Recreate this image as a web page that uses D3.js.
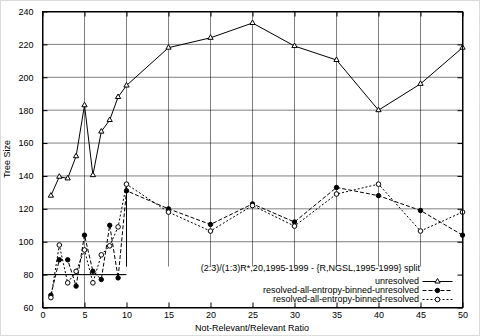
<!DOCTYPE html>
<html><head><meta charset="utf-8">
<script src="https://cdn.jsdelivr.net/npm/d3@7"></script>
<style>
body{margin:0;background:#fff}
svg{display:block}
text{font-family:"Liberation Sans",Arial,sans-serif;font-size:9px;fill:#000}
</style>
</head><body>
<svg id="chart" width="480" height="336"></svg>
<script>
const xValues = [1,2,3,4,5,6,7,8,9,10,15,20,25,30,35,40,45,50];
const unresolved = [128,139.5,138.5,152,183,140.5,167,174,188,195,218,224,233,219,210.5,180,196,218];
const resolvedUnresolved = [67.5,89,89,73,104,82,77,110,78,131,120,110.5,123,112,133,128,119,104];
const resolvedResolved = [66,98,75,82,95,75,92,97.5,109,135,118,106.5,122,109.5,129,135,106.5,118];
const xTicks = [0,5,10,15,20,25,30,35,40,45,50];
const yTicks = [60,80,100,120,140,160,180,200,220,240];
const seriesNames = ["unresolved","resolved-all-entropy-binned-unresolved","resolved-all-entropy-binned-resolved"];
const keyTitle = "(2:3)/(1:3)R*,20,1995-1999 - {R,NGSL,1995-1999} split";
const xTitle = "Not-Relevant/Relevant Ratio";
const yTitle = "Tree Size";

const svg = d3.select("#chart");
const L = 42, R = 462, T = 11, B = 307;
const x = d3.scaleLinear().domain([0,50]).range([L,R]);
const y = d3.scaleLinear().domain([60,240]).range([B,T]);

// image border
svg.append("rect").attr("x",0.5).attr("y",0.5).attr("width",479).attr("height",335)
  .attr("fill","#fff").attr("stroke","#b8b8b8").attr("stroke-dasharray","1,1");

const g = svg.append("g").attr("transform","translate(0.5,0.5)");

// grid (dotted)
const grid = g.append("g").attr("stroke","#000").attr("stroke-width",1).attr("stroke-dasharray","1,1");
grid.selectAll("line.gx").data(xTicks).join("line").attr("class","gx")
  .attr("x1",d=>x(d)).attr("x2",d=>x(d)).attr("y1",T).attr("y2",B);
grid.selectAll("line.gy").data(yTicks).join("line").attr("class","gy")
  .attr("x1",L).attr("x2",R).attr("y1",d=>y(d)).attr("y2",d=>y(d));

// key area (opaque)
g.append("rect").attr("x",124).attr("y",266).attr("width",R-124-1).attr("height",B-266-1)
  .attr("fill","#fff");

// solid reference segments visible near the low-ratio cluster
g.append("line").attr("x1",x(10)).attr("x2",x(10)).attr("y1",y(135)).attr("y2",266).attr("stroke","#000");
g.append("line").attr("x1",x(0)).attr("x2",x(10)).attr("y1",y(80)).attr("y2",y(80)).attr("stroke","#000");

// axes with inward ticks
function styleAxis(sel){ sel.select(".domain").attr("stroke","#000"); sel.selectAll(".tick line").attr("stroke","#000"); }
const axB = g.append("g").attr("transform",`translate(0,${B})`)
  .call(d3.axisBottom(x).tickValues(xTicks).tickSizeInner(-5).tickSizeOuter(0).tickPadding(4.5).tickFormat(d3.format("d")));
const axL = g.append("g").attr("transform",`translate(${L},0)`)
  .call(d3.axisLeft(y).tickValues(yTicks).tickSizeInner(-5).tickSizeOuter(0).tickPadding(9).tickFormat(d3.format("d")));
const axT = g.append("g").attr("transform",`translate(0,${T})`)
  .call(d3.axisTop(x).tickValues(xTicks).tickSizeInner(-5).tickSizeOuter(0).tickFormat(""));
const axR = g.append("g").attr("transform",`translate(${R},0)`)
  .call(d3.axisRight(y).tickValues(yTicks).tickSizeInner(-5).tickSizeOuter(0).tickFormat(""));
[axB,axL,axT,axR].forEach(a=>{ styleAxis(a); a.attr("font-family",null).attr("font-size",null); a.selectAll("text").attr("fill","#000"); });

// titles
svg.append("text").attr("x",(L+R)/2).attr("y",331).attr("text-anchor","middle").text(xTitle);
svg.append("text").attr("transform",`translate(10,${(T+B)/2}) rotate(-90)`).attr("text-anchor","middle").text(yTitle);

// series
const series = [
  {vals:unresolved, dash:null, marker:"tri"},
  {vals:resolvedUnresolved, dash:"4,2", marker:"sq"},
  {vals:resolvedResolved, dash:"2,2", marker:"circ"}
];
const line = d3.line().x(d=>x(d[0])).y(d=>y(d[1]));
function drawMarker(sel, type){
  if(type==="tri"){
    sel.append("path").attr("d",d3.symbol(d3.symbolTriangle,12)()).attr("fill","#fff").attr("stroke","#000");
  } else if(type==="sq"){
    sel.append("circle").attr("r",2.2).attr("fill","#000").attr("stroke","#000");
  } else {
    sel.append("circle").attr("r",2.3).attr("fill","#fff").attr("stroke","#000");
  }
}
series.forEach(s=>{
  const pts = xValues.map((v,i)=>[v,s.vals[i]]);
  g.append("path").datum(pts).attr("d",line).attr("fill","none").attr("stroke","#000")
    .attr("stroke-width",1).attr("stroke-dasharray",s.dash);
  const m = g.selectAll(null).data(pts).join("g").attr("transform",d=>`translate(${x(d[0])},${y(d[1])})`);
  m.each(function(){ drawMarker(d3.select(this), s.marker); });
});

// legend
svg.append("text").attr("x",420).attr("y",270.5).attr("text-anchor","end").text(keyTitle);
const rowsY = [281,290,299];
series.forEach((s,i)=>{
  svg.append("text").attr("x",419).attr("y",rowsY[i]+3.3).attr("text-anchor","end").text(seriesNames[i]);
  g.append("line").attr("x1",422).attr("x2",452).attr("y1",rowsY[i]).attr("y2",rowsY[i])
    .attr("stroke","#000").attr("stroke-dasharray",s.dash);
  const mg = g.append("g").attr("transform",`translate(437,${rowsY[i]})`);
  drawMarker(mg, s.marker);
});

// frame
g.append("rect").attr("x",L).attr("y",T).attr("width",R-L).attr("height",B-T)
  .attr("fill","none").attr("stroke","#000");
</script>
</body></html>
